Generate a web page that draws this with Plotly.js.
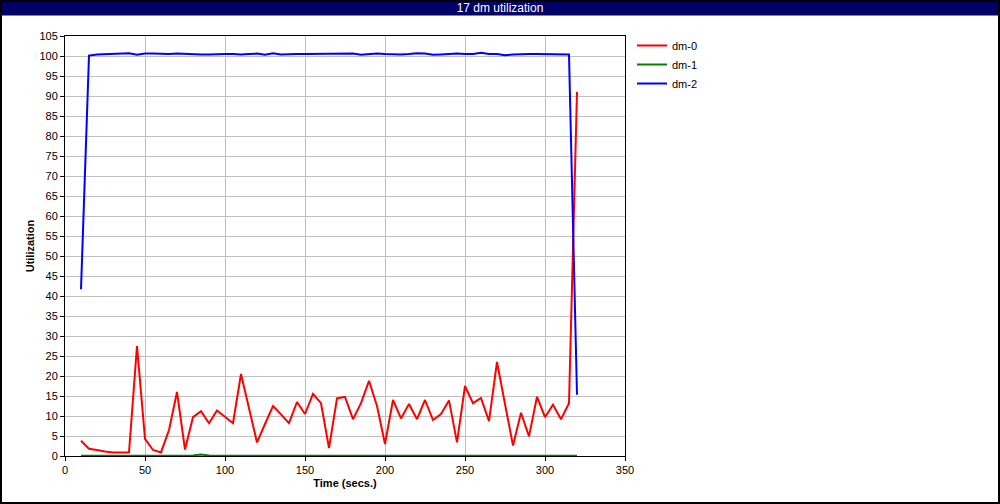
<!DOCTYPE html>
<html>
<head>
<meta charset="utf-8">
<script src="https://cdn.plot.ly/plotly-3.0.1.min.js"></script>
<style>
html,body{margin:0;padding:0;background:#fff;}
#chart{width:1000px;height:504px;}
</style>
</head>
<body>
<div id="chart"></div>
<script>
// Data
const timeDm0 = [10,15,20,25,30,35,40,45,50,55,60,65,70,75,80,85,90,95,100,105,110,115,120,125,130,135,140,145,150,155,160,165,170,175,180,185,190,195,200,205,210,215,220,225,230,235,240,245,250,255,260,265,270,275,280,285,290,295,300,305,310,315,320];
const dm0 = [3.8,1.8,1.5,1.1,0.9,0.9,0.9,27.5,4.3,1.5,0.9,6.5,16.0,1.6,9.7,11.2,8.2,11.4,9.8,8.2,20.5,12.0,3.4,8.0,12.5,10.4,8.2,13.5,10.5,15.5,13.2,2.0,14.4,14.8,9.2,13.2,18.8,12.5,3.0,14.0,9.4,13.0,9.2,14.0,9.0,10.5,13.9,3.4,17.5,13.2,14.5,8.7,23.5,13.0,2.6,10.8,4.9,14.8,9.7,12.8,9.2,13.2,91.0];
const timeDm1 = [10,15,20,25,30,35,40,45,50,55,60,65,70,75,80,85,90,95,100,150,200,250,300,320];
const dm1 = [0.05,0.05,0.05,0.05,0.05,0.05,0.05,0.05,0.05,0.05,0.05,0.05,0.05,0.05,0.1,0.4,0.1,0.05,0.05,0.05,0.05,0.05,0.05,0.05];
const timeDm2 = [10,15,20,25,30,35,40,45,50,55,60,65,70,75,80,85,90,95,100,105,110,115,120,125,130,135,140,145,150,155,160,165,170,175,180,185,190,195,200,205,210,215,220,225,230,235,240,245,250,255,260,265,270,275,280,285,290,295,300,305,310,315,320];
const dm2 = [41.7,100.1,100.4,100.5,100.5,100.6,100.7,100.3,100.6,100.6,100.5,100.5,100.6,100.5,100.5,100.4,100.4,100.5,100.5,100.5,100.4,100.5,100.6,100.3,100.7,100.4,100.5,100.5,100.5,100.5,100.5,100.6,100.5,100.5,100.6,100.3,100.5,100.6,100.5,100.4,100.4,100.5,100.7,100.6,100.3,100.4,100.5,100.6,100.5,100.5,100.8,100.5,100.5,100.2,100.4,100.5,100.5,100.5,100.5,100.4,100.5,100.4,15.3];
const seriesNames = ["dm-0","dm-1","dm-2"];
const seriesColors = ["#ff0000","#008000","#0000ff"];
const titleText = "17 dm utilization";
const xTitle = "Time (secs.)";
const yTitle = "Utilization";

const font = "Liberation Sans, Arial, sans-serif";
const traces = [
  {x: timeDm0, y: dm0, name: seriesNames[0]},
  {x: timeDm1, y: dm1, name: seriesNames[1]},
  {x: timeDm2, y: dm2, name: seriesNames[2]}
].map((t,i)=>Object.assign(t,{type:"scatter",mode:"lines",line:{color:seriesColors[i],width:2},hoverinfo:"skip"}));

const W=1000,H=504,L=65,R=375,T=36,B=48;
const pw=W-L-R, ph=H-T-B;
const px=v=>(v-L)/pw, py=v=>(H-B-v)/ph;

const layout = {
  width:W,height:H,
  margin:{l:L,r:R,t:T,b:B,pad:0},
  paper_bgcolor:"#ffffff",plot_bgcolor:"#ffffff",
  font:{family:font,size:11,color:"#000"},
  title:{text:titleText,font:{family:"Liberation Sans Narrow, Liberation Sans, Arial, sans-serif",size:12,color:"#ffffff"},x:0.5,xanchor:"center",xref:"container",y:1-7.5/H,yref:"container",yanchor:"middle"},
  showlegend:true,
  legend:{x:px(632),xanchor:"left",y:py(31),yanchor:"top",bgcolor:"rgba(0,0,0,0)",borderwidth:0,font:{family:font,size:11,color:"#000"},tracegroupgap:0,itemwidth:30},
  xaxis:{range:[0,350],tick0:0,dtick:50,showgrid:true,gridcolor:"#c0c0c0",gridwidth:1,zeroline:false,
    showline:true,linecolor:"#000",linewidth:1,mirror:true,ticks:"outside",ticklen:4,tickcolor:"#000",
    tickfont:{family:font,size:11,color:"#000"},
    title:{text:xTitle,font:{family:font,size:11,color:"#000",weight:"bold"},standoff:4}},
  yaxis:{range:[0,105],tick0:0,dtick:5,showgrid:true,gridcolor:"#c0c0c0",gridwidth:1,zeroline:false,
    showline:true,linecolor:"#000",linewidth:1,mirror:true,ticks:"outside",ticklen:4,tickcolor:"#000",
    tickfont:{family:font,size:11,color:"#000"},
    title:{text:yTitle,font:{family:font,size:11,color:"#000",weight:"bold"},standoff:2}},
  shapes:[
    {type:"rect",xref:"paper",yref:"paper",x0:px(0),x1:px(1000),y0:py(0),y1:py(15.5),fillcolor:"#000066",line:{width:0},layer:"below"},
    {type:"rect",xref:"paper",yref:"paper",x0:px(1),x1:px(999),y0:py(1),y1:py(503),fillcolor:"rgba(0,0,0,0)",line:{color:"#000",width:2},layer:"above"}
  ]
};
Plotly.newPlot("chart",traces,layout,{staticPlot:true,displayModeBar:false});
</script>
</body>
</html>
